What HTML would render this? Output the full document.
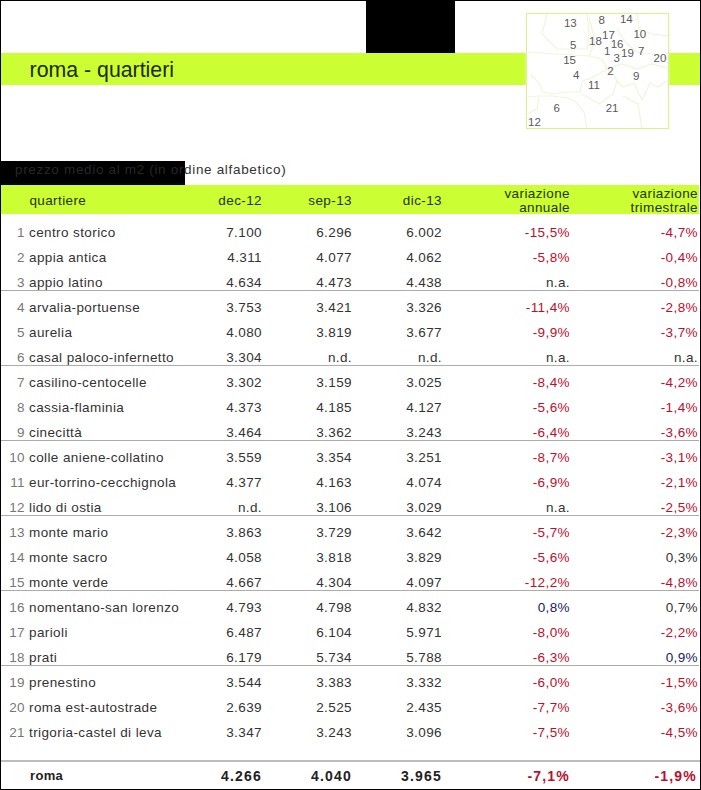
<!DOCTYPE html>
<html><head><meta charset="utf-8"><title>roma - quartieri</title>
<style>
html,body{margin:0;padding:0;background:#fff;}
body{width:701px;height:790px;position:relative;overflow:hidden;font-family:"Liberation Sans",sans-serif;color:#333;}
.bd{position:absolute;background:#000;}
.g{position:absolute;background:#ccff33;}
.title{position:absolute;left:29.6px;top:57px;font-size:21.3px;line-height:26px;color:#1e2a00;white-space:nowrap;}
.sub{position:absolute;left:15px;top:158px;font-size:13.5px;line-height:24px;letter-spacing:0.67px;color:#333;white-space:nowrap;}
.hd{position:absolute;font-size:13.5px;letter-spacing:0.4px;color:#263300;white-space:nowrap;line-height:15px;text-align:right;}
.r{position:absolute;left:0;width:701px;height:25px;font-size:13.5px;line-height:25px;letter-spacing:0.4px;white-space:nowrap;}
.r span{position:absolute;top:0;}
.n{right:676px;color:#777;}
.q{left:29px;color:#333;}
.c1{right:439px;} .c2{right:349px;} .c3{right:259px;} .c4{right:131px;} .c5{right:3px;}
.rd{color:#b8102e;} .bl{color:#202066;}
.hl{position:absolute;left:0;width:699px;height:1px;background:#acacac;}
.tot{position:absolute;left:0;top:763px;width:701px;height:26px;font-size:13px;line-height:26px;font-weight:bold;letter-spacing:0.3px;white-space:nowrap;color:#222;}
.tot span{position:absolute;top:0;}
.tv{font-size:14px;letter-spacing:1.2px;}
.map{position:absolute;left:526px;top:13px;width:141px;height:114px;border:1px solid #dcee9c;background:#fff;box-shadow:0 0 2px #eef6c8;overflow:hidden;}
.map svg{position:absolute;left:0;top:0;}
.ml{position:absolute;font-size:11.5px;line-height:12px;color:#5a5a5a;white-space:nowrap;}
</style></head><body>
<div class="g" style="left:1px;top:53px;width:699px;height:32px"></div>
<div class="title">roma - quartieri</div>
<div class="bd" style="left:366px;top:0;width:89px;height:53px"></div>
<div class="map"><svg width="141" height="114" viewBox="0 0 141 114"><polyline points="4,61 12,69 16,78 25,80 41,78 53,78 55,67 62,65 72,60 80,55" fill="none" stroke="#f0f5da" stroke-width="1.2"/><polyline points="0,83 12,82 25,82 41,84 49,88 57,98 60,116" fill="none" stroke="#f0f5da" stroke-width="1.2"/><polyline points="55,80 72,90 86,80 90,67 96,73 107,69" fill="none" stroke="#f0f5da" stroke-width="1.2"/><polyline points="96,82 111,90 115,116" fill="none" stroke="#f0f5da" stroke-width="1.2"/><polyline points="107,69 115,86 123,69 131,73 143,65" fill="none" stroke="#f0f5da" stroke-width="1.2"/><polyline points="20,0 15,20 30,35 60,35 62,20 60,0" fill="none" stroke="#f0f5da" stroke-width="1.2"/><polyline points="0,38 30,40 62,42 75,45 80,55 86,60" fill="none" stroke="#f0f5da" stroke-width="1.2"/><polyline points="110,0 112,15 125,20 143,22" fill="none" stroke="#f0f5da" stroke-width="1.2"/><polyline points="62,42 68,28 62,3" fill="none" stroke="#f0f5da" stroke-width="1.2"/><polyline points="90,15 100,30 110,38 125,40 143,45" fill="none" stroke="#f0f5da" stroke-width="1.2"/><polyline points="80,55 95,50 110,55 125,50 143,55" fill="none" stroke="#f0f5da" stroke-width="1.2"/><polyline points="0,100 10,95 12,83" fill="none" stroke="#f0f5da" stroke-width="1.2"/><polyline points="86,60 90,67" fill="none" stroke="#f0f5da" stroke-width="1.2"/></svg><span class="ml" style="left:36.9px;top:2.8px">13</span><span class="ml" style="left:71.4px;top:0.0px">8</span><span class="ml" style="left:92.9px;top:-0.7px">14</span><span class="ml" style="left:75.0px;top:14.5px">17</span><span class="ml" style="left:106.4px;top:13.7px">10</span><span class="ml" style="left:43.1px;top:25.1px">5</span><span class="ml" style="left:62.0px;top:21.0px">18</span><span class="ml" style="left:83.7px;top:23.8px">16</span><span class="ml" style="left:76.9px;top:30.8px">1</span><span class="ml" style="left:86.4px;top:37.5px">3</span><span class="ml" style="left:94.0px;top:32.5px">19</span><span class="ml" style="left:111.1px;top:31.3px">7</span><span class="ml" style="left:126.6px;top:38.4px">20</span><span class="ml" style="left:36.2px;top:39.8px">15</span><span class="ml" style="left:80.3px;top:50.7px">2</span><span class="ml" style="left:46.1px;top:55.3px">4</span><span class="ml" style="left:106.1px;top:55.7px">9</span><span class="ml" style="left:60.9px;top:64.9px">11</span><span class="ml" style="left:26.6px;top:87.7px">6</span><span class="ml" style="left:78.7px;top:87.7px">21</span><span class="ml" style="left:1.1px;top:102.1px">12</span></div>
<div class="bd" style="left:0;top:161px;width:185px;height:24px"></div>
<div class="sub">prezzo medio al m2 (in ordine alfabetico)</div>
<div style="position:absolute;left:0;top:161px;width:185px;height:24px;background:rgba(0,0,0,0.22)"></div>
<div class="g" style="left:1px;top:185px;width:698px;height:29px"></div>
<div class="hd" style="left:29.4px;top:193px;text-align:left">quartiere</div>
<div class="hd" style="right:439px;top:193px">dec-12</div>
<div class="hd" style="right:349px;top:193px">sep-13</div>
<div class="hd" style="right:259px;top:193px">dic-13</div>
<div class="hd" style="right:131px;top:187px;line-height:14px">variazione<br>annuale</div>
<div class="hd" style="right:3px;top:187px;line-height:14px">variazione<br>trimestrale</div>
<div class="r" style="top:220px"><span class="n">1</span><span class="q">centro storico</span><span class="c1">7.100</span><span class="c2">6.296</span><span class="c3">6.002</span><span class="c4 rd">-15,5%</span><span class="c5 rd">-4,7%</span></div>
<div class="r" style="top:245px"><span class="n">2</span><span class="q">appia antica</span><span class="c1">4.311</span><span class="c2">4.077</span><span class="c3">4.062</span><span class="c4 rd">-5,8%</span><span class="c5 rd">-0,4%</span></div>
<div class="r" style="top:270px"><span class="n">3</span><span class="q">appio latino</span><span class="c1">4.634</span><span class="c2">4.473</span><span class="c3">4.438</span><span class="c4">n.a.</span><span class="c5 rd">-0,8%</span></div>
<div class="r" style="top:295px"><span class="n">4</span><span class="q">arvalia-portuense</span><span class="c1">3.753</span><span class="c2">3.421</span><span class="c3">3.326</span><span class="c4 rd">-11,4%</span><span class="c5 rd">-2,8%</span></div>
<div class="r" style="top:320px"><span class="n">5</span><span class="q">aurelia</span><span class="c1">4.080</span><span class="c2">3.819</span><span class="c3">3.677</span><span class="c4 rd">-9,9%</span><span class="c5 rd">-3,7%</span></div>
<div class="r" style="top:345px"><span class="n">6</span><span class="q">casal paloco-infernetto</span><span class="c1">3.304</span><span class="c2">n.d.</span><span class="c3">n.d.</span><span class="c4">n.a.</span><span class="c5">n.a.</span></div>
<div class="r" style="top:370px"><span class="n">7</span><span class="q">casilino-centocelle</span><span class="c1">3.302</span><span class="c2">3.159</span><span class="c3">3.025</span><span class="c4 rd">-8,4%</span><span class="c5 rd">-4,2%</span></div>
<div class="r" style="top:395px"><span class="n">8</span><span class="q">cassia-flaminia</span><span class="c1">4.373</span><span class="c2">4.185</span><span class="c3">4.127</span><span class="c4 rd">-5,6%</span><span class="c5 rd">-1,4%</span></div>
<div class="r" style="top:420px"><span class="n">9</span><span class="q">cinecittà</span><span class="c1">3.464</span><span class="c2">3.362</span><span class="c3">3.243</span><span class="c4 rd">-6,4%</span><span class="c5 rd">-3,6%</span></div>
<div class="r" style="top:445px"><span class="n">10</span><span class="q">colle aniene-collatino</span><span class="c1">3.559</span><span class="c2">3.354</span><span class="c3">3.251</span><span class="c4 rd">-8,7%</span><span class="c5 rd">-3,1%</span></div>
<div class="r" style="top:470px"><span class="n">11</span><span class="q">eur-torrino-cecchignola</span><span class="c1">4.377</span><span class="c2">4.163</span><span class="c3">4.074</span><span class="c4 rd">-6,9%</span><span class="c5 rd">-2,1%</span></div>
<div class="r" style="top:495px"><span class="n">12</span><span class="q">lido di ostia</span><span class="c1">n.d.</span><span class="c2">3.106</span><span class="c3">3.029</span><span class="c4">n.a.</span><span class="c5 rd">-2,5%</span></div>
<div class="r" style="top:520px"><span class="n">13</span><span class="q">monte mario</span><span class="c1">3.863</span><span class="c2">3.729</span><span class="c3">3.642</span><span class="c4 rd">-5,7%</span><span class="c5 rd">-2,3%</span></div>
<div class="r" style="top:545px"><span class="n">14</span><span class="q">monte sacro</span><span class="c1">4.058</span><span class="c2">3.818</span><span class="c3">3.829</span><span class="c4 rd">-5,6%</span><span class="c5">0,3%</span></div>
<div class="r" style="top:570px"><span class="n">15</span><span class="q">monte verde</span><span class="c1">4.667</span><span class="c2">4.304</span><span class="c3">4.097</span><span class="c4 rd">-12,2%</span><span class="c5 rd">-4,8%</span></div>
<div class="r" style="top:595px"><span class="n">16</span><span class="q">nomentano-san lorenzo</span><span class="c1">4.793</span><span class="c2">4.798</span><span class="c3">4.832</span><span class="c4 bl">0,8%</span><span class="c5">0,7%</span></div>
<div class="r" style="top:620px"><span class="n">17</span><span class="q">parioli</span><span class="c1">6.487</span><span class="c2">6.104</span><span class="c3">5.971</span><span class="c4 rd">-8,0%</span><span class="c5 rd">-2,2%</span></div>
<div class="r" style="top:645px"><span class="n">18</span><span class="q">prati</span><span class="c1">6.179</span><span class="c2">5.734</span><span class="c3">5.788</span><span class="c4 rd">-6,3%</span><span class="c5 bl">0,9%</span></div>
<div class="r" style="top:670px"><span class="n">19</span><span class="q">prenestino</span><span class="c1">3.544</span><span class="c2">3.383</span><span class="c3">3.332</span><span class="c4 rd">-6,0%</span><span class="c5 rd">-1,5%</span></div>
<div class="r" style="top:695px"><span class="n">20</span><span class="q">roma est-autostrade</span><span class="c1">2.639</span><span class="c2">2.525</span><span class="c3">2.435</span><span class="c4 rd">-7,7%</span><span class="c5 rd">-3,6%</span></div>
<div class="r" style="top:720px"><span class="n">21</span><span class="q">trigoria-castel di leva</span><span class="c1">3.347</span><span class="c2">3.243</span><span class="c3">3.096</span><span class="c4 rd">-7,5%</span><span class="c5 rd">-4,5%</span></div>
<div class="hl" style="top:290px"></div>
<div class="hl" style="top:365px"></div>
<div class="hl" style="top:440px"></div>
<div class="hl" style="top:515px"></div>
<div class="hl" style="top:590px"></div>
<div class="hl" style="top:665px"></div>
<div class="hl" style="top:760px;height:2px;background:#bdbdbd;width:701px"></div>
<div class="tot"><span style="left:30px;letter-spacing:0.35px">roma</span><span class="tv" style="right:439px">4.266</span><span class="tv" style="right:349px">4.040</span><span class="tv" style="right:259px">3.965</span><span class="tv rd" style="right:131px">-7,1%</span><span class="tv rd" style="right:4px">-1,9%</span></div>
<div class="bd" style="left:0;top:0;width:701px;height:1px"></div>
<div class="bd" style="left:0;top:0;width:1px;height:790px"></div>
<div class="bd" style="left:700px;top:0;width:1px;height:790px"></div>
<div class="bd" style="left:0;top:789px;width:701px;height:1px"></div>
</body></html>
